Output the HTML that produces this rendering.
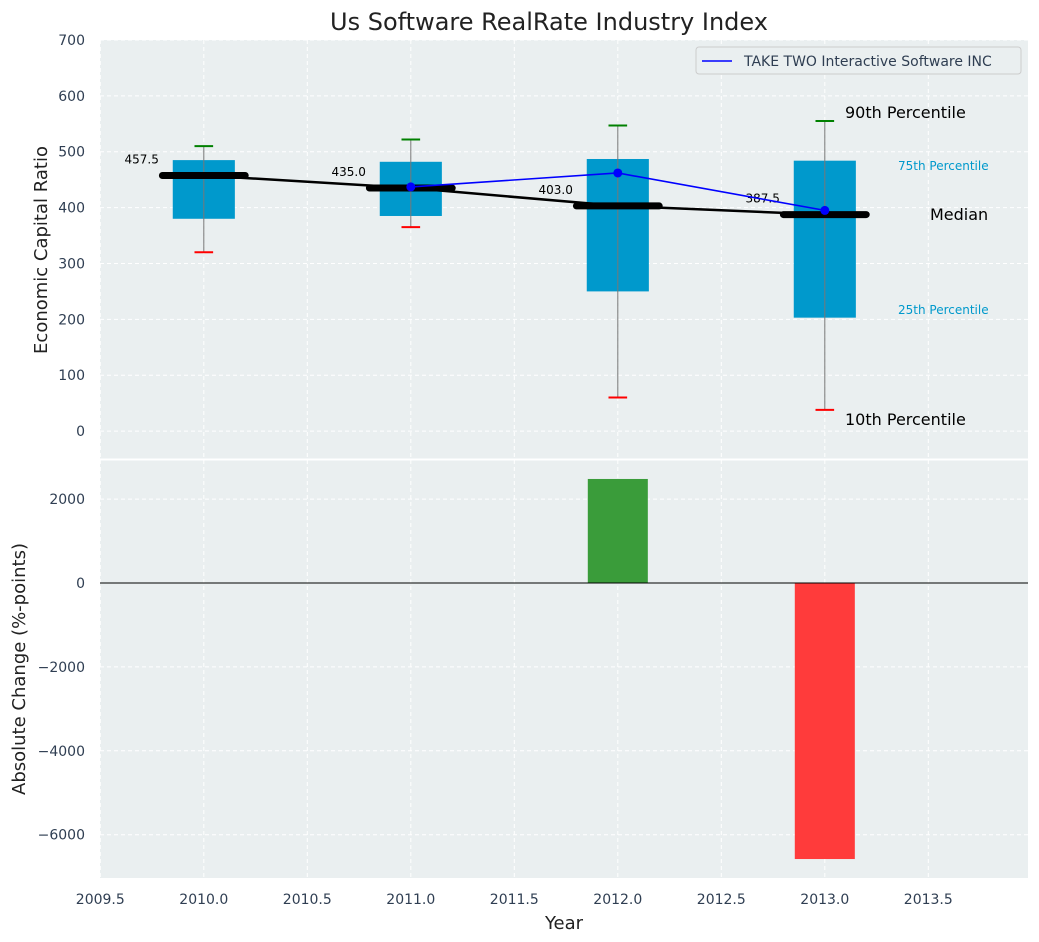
<!DOCTYPE html>
<html><head><meta charset="utf-8"><style>
html,body{margin:0;padding:0;background:#fff;}
svg{display:block;font-family:"DejaVu Sans","Liberation Sans",sans-serif;}
</style></head><body>
<svg id="c" width="1039" height="942"></svg>
<script>
const years=[2010,2011,2012,2013];
const p10=[320,365,60,38];
const q1=[380,385,250,203];
const medians=[457.5,435,403,387.5];
const q3=[485,482,487,484];
const p90=[510,522,547,555];
const companyYears=[2011,2012,2013];
const companyValues=[437,462,395];
const changeYears=[2012,2013];
const changeValues=[2480,-6580];
const topTicks=[0,100,200,300,400,500,600,700];
const botTicks=[-6000,-4000,-2000,0,2000];
const xTicks=[2009.5,2010,2010.5,2011,2011.5,2012,2012.5,2013,2013.5];

const NS="http://www.w3.org/2000/svg";
const svg=document.getElementById('c');
function mk(t,a,p){const e=document.createElementNS(NS,t);for(const k in a)e.setAttribute(k,a[k]);(p||svg).appendChild(e);return e;}
const L=100,R=1028;
const X=v=>L+(v-2009.4985)*207;
const T0=40,T1=459,B0=460,B1=878;
const Yt=v=>T1-(v+50)/750*(T1-T0);
const Yb=v=>583-v*0.04195;

let e=mk('rect',{x:L,y:T0,width:R-L,height:T1-T0,fill:'#eaeff0'});

e=mk('rect',{x:L,y:B0,width:R-L,height:B1-B0,fill:'#eaeff0'});


xTicks.forEach(t=>{
 mk('line',{x1:X(t),x2:X(t),y1:T0,y2:T1,stroke:'#fff','stroke-dasharray':'4,3','stroke-width':1});
 mk('line',{x1:X(t),x2:X(t),y1:B0,y2:B1,stroke:'#fff','stroke-dasharray':'4,3','stroke-width':1});
 e=mk('text',{x:X(t),y:904,'text-anchor':'middle','font-size':14,fill:'#2f3e52'});e.textContent=t.toFixed(1);
 
});
topTicks.forEach(t=>{
 mk('line',{x1:L,x2:R,y1:Yt(t),y2:Yt(t),stroke:'#fff','stroke-dasharray':'4,3'});
 e=mk('text',{x:85,y:Yt(t)+5,'text-anchor':'end','font-size':14,fill:'#2f3e52'});e.textContent=t;
 
});
botTicks.forEach(t=>{
 mk('line',{x1:L,x2:R,y1:Yb(t),y2:Yb(t),stroke:'#fff','stroke-dasharray':'4,3'});
 e=mk('text',{x:85,y:Yb(t)+5,'text-anchor':'end','font-size':14,fill:'#2f3e52'});e.textContent=t<0?'\u2212'+(-t):t;
 
});
mk('line',{x1:0,x2:1039,y1:459.5,y2:459.5,stroke:'#fff','stroke-width':2});

years.forEach((y,i)=>{
 e=mk('rect',{x:X(y-0.15),y:Yt(q3[i]),width:X(y+0.15)-X(y-0.15),height:Yt(q1[i])-Yt(q3[i]),fill:'#0099cc'});
 
 mk('line',{x1:X(y),x2:X(y),y1:Yt(p90[i]),y2:Yt(p10[i]),stroke:'#777','stroke-width':1});
 e=mk('line',{x1:X(y-0.045),x2:X(y+0.045),y1:Yt(p90[i]),y2:Yt(p90[i]),stroke:'green','stroke-width':2});
 
 e=mk('line',{x1:X(y-0.045),x2:X(y+0.045),y1:Yt(p10[i]),y2:Yt(p10[i]),stroke:'red','stroke-width':2});
 
});
e=mk('polyline',{points:years.map((y,i)=>X(y)+','+Yt(medians[i])).join(' '),fill:'none',stroke:'#000','stroke-width':2.5});

years.forEach((y,i)=>{
 e=mk('line',{x1:X(y-0.2),x2:X(y+0.2),y1:Yt(medians[i]),y2:Yt(medians[i]),stroke:'#000','stroke-width':7,'stroke-linecap':'round'});
 
 e=mk('text',{x:X(y-0.3),y:Yt(medians[i])-12,'text-anchor':'middle','font-size':12,fill:'#000'});e.textContent=medians[i].toFixed(1);
 
});
e=mk('polyline',{points:companyYears.map((y,i)=>X(y)+','+Yt(companyValues[i])).join(' '),fill:'none',stroke:'#0000ff','stroke-width':1.6});

companyYears.forEach((y,i)=>{e=mk('circle',{cx:X(y),cy:Yt(companyValues[i]),r:4.5,fill:'#0000ff'});
 });

const ann=[['90th Percentile',845,118,16,'#000'],['75th Percentile',898,170,12,'#0099cc'],['Median',930,220,16,'#000'],['25th Percentile',898,314,12,'#0099cc'],['10th Percentile',845,425,16,'#000']];
ann.forEach(a=>{e=mk('text',{x:a[1],y:a[2],'font-size':a[3],fill:a[4]});e.textContent=a[0];
 });

let g=mk('g',{});
mk('rect',{x:696,y:47,width:325,height:27,rx:3,fill:'#eaeff0',stroke:'#ccc'},g);
mk('line',{x1:702,x2:732,y1:61,y2:61,stroke:'#0000ff','stroke-width':1.6},g);
e=mk('text',{x:744,y:66,'font-size':14,fill:'#2f3e52'},g);e.textContent='TAKE TWO Interactive Software INC';

changeYears.forEach((y,i)=>{const v=changeValues[i];
 e=mk('rect',{x:X(y-0.145),y:Math.min(Yb(v),Yb(0)),width:X(y+0.145)-X(y-0.145),height:Math.abs(Yb(v)-Yb(0)),fill:v>=0?'#3a9c3a':'#ff3b3b'});
 });
mk('line',{x1:L,x2:R,y1:Yb(0),y2:Yb(0),stroke:'#000','stroke-width':1});

e=mk('text',{x:549,y:30,'text-anchor':'middle','font-size':24,fill:'#222'});e.textContent='Us Software RealRate Industry Index';

e=mk('text',{x:0,y:0,'text-anchor':'middle','font-size':18,fill:'#222',transform:'translate(47,250) rotate(-90)'});e.textContent='Economic Capital Ratio';

e=mk('text',{x:0,y:0,'text-anchor':'middle','font-size':18,fill:'#222',transform:'translate(25,669) rotate(-90)'});e.textContent='Absolute Change (%-points)';

e=mk('text',{x:564,y:929,'text-anchor':'middle','font-size':18,fill:'#222'});e.textContent='Year';

</script>
</body></html>
